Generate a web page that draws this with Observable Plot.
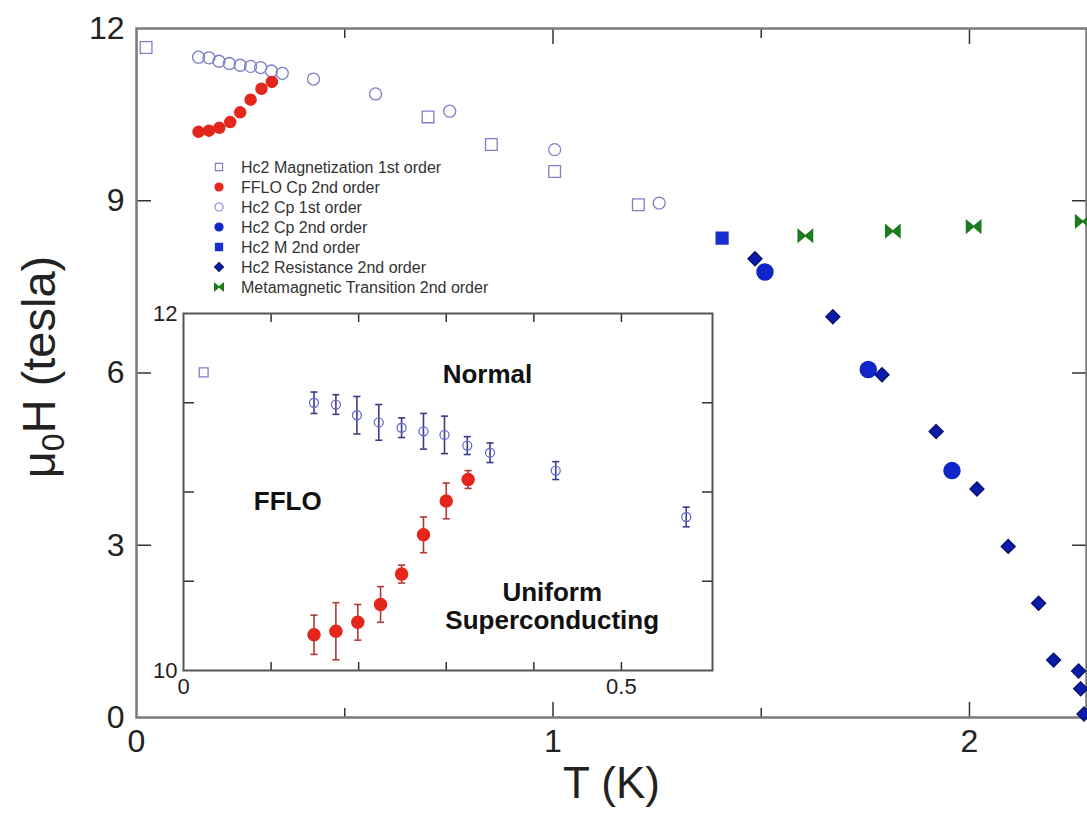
<!DOCTYPE html>
<html><head><meta charset="utf-8">
<script src="https://cdn.jsdelivr.net/npm/d3@7"></script>
<script src="https://cdn.jsdelivr.net/npm/@observablehq/plot@0.6"></script>
<style>
body{margin:0;background:#fff;overflow:hidden}
#wrap{position:relative;width:1087px;height:828px;overflow:hidden}
#wrap svg{position:absolute;overflow:visible}
</style></head><body><div id="wrap"></div>
<script>
const FONT = '"Liberation Sans", Arial, Helvetica, sans-serif';

// ---------- series names (legend order) ----------
const seriesNames = [
  "Hc2 Magnetization 1st order",
  "FFLO Cp 2nd order",
  "Hc2 Cp 1st order",
  "Hc2 Cp 2nd order",
  "Hc2 M 2nd order",
  "Hc2 Resistance 2nd order",
  "Metamagnetic Transition 2nd order"
];

// ---------- data (T in K, H in tesla) ----------
const mag1T = [0.023, 0.700, 0.852, 1.004, 1.205];
const mag1H = [11.67, 10.46, 9.98, 9.51, 8.93];

const ffloT   = [0.149, 0.174, 0.199, 0.225, 0.249, 0.274, 0.300, 0.325];
const ffloH   = [10.20, 10.22, 10.27, 10.37, 10.54, 10.76, 10.95, 11.07];
const ffloErr = [0.11, 0.16, 0.10, 0.10, 0.05, 0.10, 0.10, 0.05];

const cp1T   = [0.149, 0.174, 0.198, 0.223, 0.249, 0.274, 0.298, 0.324, 0.350, 0.425, 0.574, 0.752, 1.004, 1.255];
const cp1H   = [11.50, 11.49, 11.43, 11.39, 11.36, 11.34, 11.32, 11.26, 11.22, 11.12, 10.86, 10.56, 9.89, 8.96];
const cp1Err = [0.06, 0.055, 0.105, 0.10, 0.055, 0.10, 0.105, 0.05, 0.055, 0.05, 0.055, null, null, null];

const cp2T = [1.509, 1.757, 1.958];
const cp2H = [7.76, 6.06, 4.30];

const m2T = [1.406];
const m2H = [8.35];

const resT = [1.485, 1.672, 1.790, 1.920, 2.018, 2.093, 2.166, 2.202, 2.262, 2.267, 2.275];
const resH = [7.99, 6.98, 5.97, 4.98, 3.98, 2.98, 1.99, 1.00, 0.81, 0.50, 0.06];

const metaT = [1.606, 1.816, 2.010, 2.272];
const metaH = [8.39, 8.47, 8.55, 8.64];

// tick values
const mainXLabels = [0, 1, 2];
const mainXMajor = [1, 2];
const mainXMinor = [0.5, 1.5];
const mainYTicks = [3, 6, 9];
const mainYLabels = [0, 3, 6, 9, 12];
const insetXLabels = [0, 0.5];
const insetXTicks = [0.1, 0.2, 0.3, 0.4, 0.5];
const insetYLabels = [10, 12];
const insetYTicks = [10.5, 11, 11.5];

// inset annotations (data coordinates of inset)
const regionLabels = ["Normal", "FFLO", "Uniform\nSuperconducting"];
const regionT = [0.347, 0.119, 0.421];
const regionH = [11.66, 10.95, 10.36];

// ---------- build tables ----------
const zip = (T, H, E) => T.map((t, i) => ({T: t, H: H[i], e: E ? E[i] : null}));
const mag1 = zip(mag1T, mag1H);
const fflo = zip(ffloT, ffloH, ffloErr);
const cp1 = zip(cp1T, cp1H, cp1Err);
const cp2 = zip(cp2T, cp2H);
const m2 = zip(m2T, m2H);
const res = zip(resT, resH);
const meta = zip(metaT, metaH);
const regions = regionLabels.map((s, i) => ({s, T: regionT[i], H: regionH[i]}));

// ---------- styles ----------
const C = {
  lav: "#7f7fc8",
  red: "#e4261c",
  blueC: "#1026c8",
  blueS: "#1a2ed0",
  blueD: "#0c1caa",
  green: "#1e7a1e",
  barBlue: "#3c3c86",
  barRed: "#b03a34"
};
const bowtie = {draw(ctx, size) {
  const s = Math.sqrt(size), w = s * 0.62, h = s * 0.52;
  ctx.moveTo(-w, -h); ctx.lineTo(0, 0); ctx.lineTo(-w, h); ctx.closePath();
  ctx.moveTo(w, -h); ctx.lineTo(0, 0); ctx.lineTo(w, h); ctx.closePath();
}};
const cap = {draw(ctx, size) {
  const w = Math.sqrt(size) / 2;
  ctx.moveTo(-w, 0); ctx.lineTo(w, 0);
}};
const seriesStyle = [
  {symbol: "square", fill: "none", stroke: C.lav, strokeWidth: 1.3},
  {symbol: "circle", fill: C.red, stroke: C.red},
  {symbol: "circle", fill: "none", stroke: C.lav, strokeWidth: 1.3},
  {symbol: "circle", fill: C.blueC, stroke: C.blueC},
  {symbol: "square", fill: C.blueS, stroke: C.blueS},
  {symbol: "diamond2", fill: C.blueD, stroke: "#0a1270"},
  {symbol: bowtie, fill: C.green, stroke: C.green}
];
const fmt = d => String(d);
const none = () => "";

// ---------- main plot ----------
const main = Plot.plot({
  width: 1087, height: 828,
  marginLeft: 136, marginRight: 1, marginTop: 28, marginBottom: 111,
  x: {domain: [0, 2.281]},
  y: {domain: [0, 12]},
  style: {fontFamily: FONT, background: "transparent", color: "#222", overflow: "visible"},
  marks: [
    Plot.axisX(mainXLabels, {anchor: "bottom", tickSize: 0, tickPadding: 12, fontSize: 32, tickFormat: fmt, label: null}),
    Plot.axisX(mainXMajor, {anchor: "bottom", tickSize: -15, tickFormat: none, label: null, stroke: "#333", strokeWidth: 1.5}),
    Plot.axisX(mainXMinor, {anchor: "bottom", tickSize: -9, tickFormat: none, label: null, stroke: "#333", strokeWidth: 1.5}),
    Plot.axisX(mainXMajor, {anchor: "top", tickSize: -15, tickFormat: none, label: null, stroke: "#333", strokeWidth: 1.5}),
    Plot.axisX(mainXMinor, {anchor: "top", tickSize: -9, tickFormat: none, label: null, stroke: "#333", strokeWidth: 1.5}),
    Plot.axisY(mainYLabels, {anchor: "left", tickSize: 0, tickPadding: 12, fontSize: 32, tickFormat: fmt, label: null}),
    Plot.axisY(mainYTicks, {anchor: "left", tickSize: -15, tickFormat: none, label: null, stroke: "#333", strokeWidth: 1.5}),
    Plot.axisY(mainYTicks, {anchor: "right", tickSize: -15, tickFormat: none, label: null, stroke: "#333", strokeWidth: 1.5}),
    Plot.frame({stroke: "#7a7a7a", strokeWidth: 2.5}),
    Plot.dot(mag1, {x: "T", y: "H", r: 6.6, ...seriesStyle[0]}),
    Plot.dot(cp1, {x: "T", y: "H", r: 6, ...seriesStyle[2]}),
    Plot.dot(fflo, {x: "T", y: "H", r: 5.5, ...seriesStyle[1]}),
    Plot.dot(m2, {x: "T", y: "H", r: 6.6, ...seriesStyle[4]}),
    Plot.dot(res, {x: "T", y: "H", r: 6.2, ...seriesStyle[5]}),
    Plot.dot(cp2, {x: "T", y: "H", r: 8, ...seriesStyle[3]}),
    Plot.dot(meta, {x: "T", y: "H", r: 6.5, ...seriesStyle[6]}),
    Plot.text(["T (K)"], {frameAnchor: "bottom", dy: 80, fontSize: 44, fill: "#222"})
  ]
});
main.style.left = "0px"; main.style.top = "0px";

// y title with subscript
{
  const t = d3.select(main).append("text")
    .attr("transform", "translate(55,367) rotate(-90)")
    .attr("text-anchor", "middle")
    .attr("fill", "#222")
    .style("font-family", FONT)
    .style("font-size", "47px");
  t.append("tspan").text("μ");
  t.append("tspan").text("0").style("font-size", "32px").attr("dy", 9);
  t.append("tspan").text("H (tesla)").attr("dy", -9);
}

// ---------- inset ----------
const iL = 50, iR = 4, iT = 8, iB = 36;
const insetFrame = {left: 183, right: 712, top: 313, bottom: 670};
const inCp1 = cp1.filter(d => d.T < 0.6);
const inMag = mag1.filter(d => d.T < 0.6);
const inset = Plot.plot({
  width: insetFrame.right - insetFrame.left + iL + iR,
  height: insetFrame.bottom - insetFrame.top + iT + iB,
  marginLeft: iL, marginRight: iR, marginTop: iT, marginBottom: iB,
  x: {domain: [0, 0.604]},
  y: {domain: [10, 12]},
  style: {fontFamily: FONT, background: "transparent", color: "#222", overflow: "visible"},
  marks: [
    Plot.axisX(insetXLabels, {anchor: "bottom", tickSize: 0, tickPadding: 8, fontSize: 22, tickFormat: fmt, label: null}),
    Plot.axisX(insetXTicks, {anchor: "bottom", tickSize: -8, tickFormat: none, label: null, stroke: "#333", strokeWidth: 1.5}),
    Plot.axisX(insetXTicks, {anchor: "top", tickSize: -8, tickFormat: none, label: null, stroke: "#333", strokeWidth: 1.5}),
    Plot.axisY(insetYLabels, {anchor: "left", tickSize: 0, tickPadding: 6, fontSize: 22, tickFormat: fmt, label: null}),
    Plot.axisY(insetYTicks, {anchor: "left", tickSize: -11, tickFormat: none, label: null, stroke: "#333", strokeWidth: 1.5}),
    Plot.axisY(insetYTicks, {anchor: "right", tickSize: -11, tickFormat: none, label: null, stroke: "#333", strokeWidth: 1.5}),
    Plot.frame({stroke: "#555", strokeWidth: 2}),
    // error bars
    Plot.ruleX(inCp1, {x: "T", y1: d => d.H - d.e, y2: d => d.H + d.e, stroke: C.barBlue, strokeWidth: 1.6}),
    Plot.dot(inCp1, {x: "T", y: d => d.H + d.e, symbol: cap, r: 4, fill: "none", stroke: C.barBlue, strokeWidth: 1.6}),
    Plot.dot(inCp1, {x: "T", y: d => d.H - d.e, symbol: cap, r: 4, fill: "none", stroke: C.barBlue, strokeWidth: 1.6}),
    Plot.ruleX(fflo, {x: "T", y1: d => d.H - d.e, y2: d => d.H + d.e, stroke: C.barRed, strokeWidth: 1.6}),
    Plot.dot(fflo, {x: "T", y: d => d.H + d.e, symbol: cap, r: 4, fill: "none", stroke: C.barRed, strokeWidth: 1.6}),
    Plot.dot(fflo, {x: "T", y: d => d.H - d.e, symbol: cap, r: 4, fill: "none", stroke: C.barRed, strokeWidth: 1.6}),
    // points
    Plot.dot(inMag, {x: "T", y: "H", r: 5, ...seriesStyle[0]}),
    Plot.dot(inCp1, {x: "T", y: "H", r: 4.5, ...seriesStyle[2], stroke: "#6a6ad0"}),
    Plot.dot(fflo, {x: "T", y: "H", r: 6, ...seriesStyle[1]}),
    // region labels
    Plot.text(regions, {x: "T", y: "H", text: "s", fontSize: 26, fontWeight: "bold", lineHeight: 1.08, fill: "#111"})
  ]
});
inset.style.left = (insetFrame.left - iL) + "px";
inset.style.top = (insetFrame.top - iT) + "px";

// ---------- legend (overlay) ----------
const legend = d3.create("svg").attr("width", 340).attr("height", 150)
  .style("left", "205px").style("top", "155px");
seriesNames.forEach((name, i) => {
  const st = seriesStyle[i];
  const cy = 12 + i * 20;
  const type = typeof st.symbol === "string"
    ? {square: d3.symbolSquare, circle: d3.symbolCircle, diamond2: d3.symbolDiamond2}[st.symbol]
    : st.symbol;
  legend.append("path")
    .attr("d", d3.symbol(type, 52)())
    .attr("transform", `translate(14,${cy})`)
    .attr("fill", st.fill).attr("stroke", st.stroke).attr("stroke-width", 1.1);
  legend.append("text").attr("x", 36).attr("y", cy).attr("dy", "0.36em")
    .style("font-family", FONT).style("font-size", "16px").attr("fill", "#333")
    .text(name);
});

const wrap = document.getElementById("wrap");
wrap.appendChild(main);
wrap.appendChild(inset);
wrap.appendChild(legend.node());
</script>
</body></html>
